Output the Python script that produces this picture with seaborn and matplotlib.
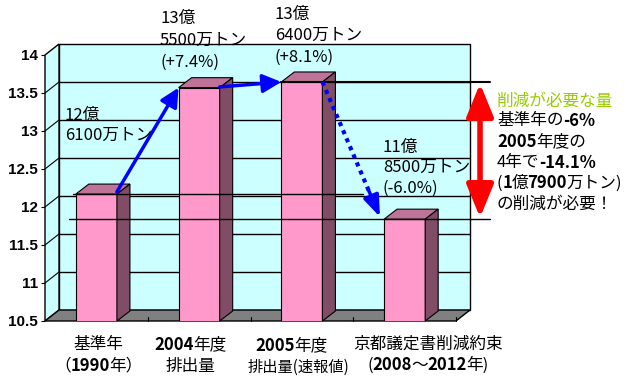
import numpy as np
import pandas as pd
import seaborn as sns
import matplotlib
matplotlib.use("Agg")
import matplotlib.pyplot as plt
from matplotlib.patches import Polygon

# ---------------- data ----------------
categories = ["基準年", "2004年度", "2005年度", "京都議定書"]
values = [12.17, 13.57, 13.645, 11.84]          # bar heights as drawn
yticks = [10.5, 11, 11.5, 12, 12.5, 13, 13.5, 14]
ytick_labels = ["10.5", "11", "11.5", "12", "12.5", "13", "13.5", "14"]

value_labels = [
    ["12億", "6100万トン"],
    ["13億", "5500万トン", "(+7.4%)"],
    ["13億", "6400万トン", "(+8.1%)"],
    ["11億", "8500万トン", "(-6.0%)"],
]
# category labels: list of lines, each line a list of (text, bold)
cat_labels = [
    [[("基準年", False)], [("（", False), ("1990", True), ("年）", False)]],
    [[("2004", True), ("年度", False)], [("排出量", False)]],
    [[("2005", True), ("年度", False)], [("排出量(速報値)", False)]],
    [[("京都議定書削減約束", False)], [("(", False), ("2008", True), ("〜", False), ("2012", True), ("年)", False)]],
]
note_lines = [
    [("削減が必要な量", False, "#99CC00")],
    [("基準年の", False, "black"), ("-6%", True, "black")],
    [("2005", True, "black"), ("年度の", False, "black")],
    [("4年で", False, "black"), ("-14.1%", True, "black")],
    [("(", False, "black"), ("1", True, "black"), ("億", False, "black"),
     ("7900", True, "black"), ("万トン)", False, "black")],
    [("の削減が必要！", False, "black")],
]

# ---------------- style ----------------
sns.set_theme(style="white")
plt.rcParams["font.family"] = ["Noto Sans CJK JP", "DejaVu Sans"]

W, H = 630, 379
fig = plt.figure(figsize=(W / 100, H / 100), dpi=100)
fig.patch.set_facecolor("white")
ax = fig.add_axes([45 / W, 1 - 321 / H, 411 / W, 266 / H])

df = pd.DataFrame({"cat": categories, "val": values})
sns.barplot(data=df, x="cat", y="val", order=categories, color="#FF99CC",
            saturation=1, width=0.4, edgecolor="black", linewidth=0.8,
            errorbar=None, ax=ax, zorder=3)
bars = list(ax.patches)

x0, x1 = -0.5, 3.5
y0, y1 = 10.5, 14.0
ax.set_xlim(x0, x1)
ax.set_ylim(y0, y1)
ax.patch.set_visible(False)
for s in ax.spines.values():
    s.set_visible(False)

# depth offsets (data units)
dx = 14 * 4 / 411
dy = 11 * 3.5 / 266
dxb = 13 * 4 / 411
dyb = 10 * 3.5 / 266

# walls and floor
ax.add_patch(Polygon([(x0 + dx, y0 + dy), (x1 + dx, y0 + dy), (x1 + dx, y1 + dy), (x0 + dx, y1 + dy)],
                     closed=True, fc="#CCFFFF", ec="black", lw=1, zorder=0.5, clip_on=False))
ax.add_patch(Polygon([(x0, y0), (x0 + dx, y0 + dy), (x0 + dx, y1 + dy), (x0, y1)],
                     closed=True, fc="#CCFFFF", ec="black", lw=1, zorder=0.6, clip_on=False))
ax.add_patch(Polygon([(x0, y0), (x1, y0), (x1 + dx, y0 + dy), (x0 + dx, y0 + dy)],
                     closed=True, fc="#808080", ec="black", lw=1, zorder=0.7, clip_on=False))
for v in yticks[1:-1]:
    ax.plot([x0 + dx, x1 + dx], [v + dy, v + dy], color="black", lw=1, zorder=0.8, clip_on=False)
    ax.plot([x0, x0 + dx], [v, v + dy], color="black", lw=0.8, zorder=0.8, clip_on=False)
for k in [0.5, 1.5, 2.5, 3.5]:
    ax.plot([k, k], [y0, y0 + 4 * 3.5 / 266], color="black", lw=0.8, zorder=0.9, clip_on=False)

# 3D faces of bars
for p in bars:
    bx, bw = p.get_x(), p.get_width()
    top = p.get_y() + p.get_height()
    ax.add_patch(Polygon([(bx, top), (bx + bw, top), (bx + bw + dxb, top + dyb), (bx + dxb, top + dyb)],
                         closed=True, fc="#BF7399", ec="black", lw=0.8, zorder=3.1, clip_on=False))
    ax.add_patch(Polygon([(bx + bw, y0), (bx + bw, top), (bx + bw + dxb, top + dyb), (bx + bw + dxb, y0 + dyb)],
                         closed=True, fc="#804C66", ec="black", lw=0.8, zorder=3.1, clip_on=False))

# axis ticks
ax.set_xticks([])
ax.set_xlabel("")
ax.set_ylabel("")
ax.set_yticks(yticks)
ax.set_yticklabels(ytick_labels, fontweight="bold", fontfamily="Liberation Sans", fontsize=11)
ax.tick_params(axis="y", left=True, length=3, width=0.8, pad=2, color="black", labelcolor="black")

# reference lines
ext = 3.83
ax.plot([bars[2].get_x(), ext], [values[2], values[2]], color="black", lw=1.5, zorder=4, clip_on=False)
ax.plot([-0.266, ext], [values[3], values[3]], color="black", lw=1, zorder=4, clip_on=False)
ax.plot([-0.227, 2.595], [values[0], values[0]], color="black", lw=1, zorder=4, clip_on=False)

# blue arrows
def right(i):
    return bars[i].get_x() + bars[i].get_width()

def left(i):
    return bars[i].get_x()

aprops = dict(arrowstyle="-|>,head_length=0.7,head_width=0.35", color="#0000FF", lw=2.5,
              mutation_scale=16, shrinkA=0, shrinkB=0)
ax.annotate("", xy=(left(1), values[1]), xytext=(right(0), values[0] + 0.03),
            arrowprops=aprops, zorder=5, annotation_clip=False)
ax.annotate("", xy=(left(2), values[2]), xytext=(right(1), values[1] + 0.01),
            arrowprops=aprops, zorder=5, annotation_clip=False)
# dotted arrow
sx, sy = right(2), values[2]
ex, ey = left(3) - 0.04, values[3] + 0.03
t = 0.86
ax.plot([sx, sx + (ex - sx) * t], [sy, sy + (ey - sy) * t], color="#0000FF", lw=3.0,
        linestyle=(0, (1, 1.1)), zorder=5, clip_on=False)
ax.annotate("", xy=(ex, ey), xytext=(sx + (ex - sx) * 0.8, sy + (ey - sy) * 0.8),
            arrowprops=dict(arrowstyle="-|>,head_length=0.8,head_width=0.3", color="#0000FF", lw=2.5,
                            mutation_scale=16, shrinkA=0, shrinkB=0),
            zorder=5, annotation_clip=False)

# red double arrow
rx = 3.734
ax.annotate("", xy=(rx, values[3] + 0.02), xytext=(rx, values[2] - 0.02),
            arrowprops=dict(arrowstyle="<|-|>,head_length=1.1,head_width=0.45", color="#FF0000",
                            lw=4, mutation_scale=18, shrinkA=0, shrinkB=0),
            zorder=5, annotation_clip=False)

# ---------------- texts ----------------
renderer = fig.canvas.get_renderer()

def rich(xp, yp, parts, size=12, ha="left", fudge=0.5):
    texts = []
    for part in parts:
        s, bold = part[0], part[1]
        color = part[2] if len(part) > 2 else "black"
        tx = fig.text(0, 1 - yp / H, s, fontsize=size, fontweight="bold" if bold else "normal",
                      color=color, va="center", ha="left")
        texts.append(tx)
    widths = [tx.get_window_extent(renderer).width - fudge for tx in texts]
    total = sum(widths)
    x = xp - total / 2 if ha == "center" else xp
    for tx, w in zip(texts, widths):
        tx.set_x(x / W)
        x += w

# value labels
val_pos = [(65, [115, 135]), (160, [18, 40, 62]), (275, [14, 35, 57]), (383, [147, 167, 188])]
for lines, (xp, ys) in zip(value_labels, val_pos):
    for s, yp in zip(lines, ys):
        fig.text(xp / W, 1 - yp / H, s, fontsize=12, va="center", ha="left", color="black")

# category labels
cat_pos = [(98, [345, 366]), (190, [345, 366]), (291, [346, 367]), (428, [344, 365])]
for ci, (lines, (xp, ys)) in enumerate(zip(cat_labels, cat_pos)):
    for li, (parts, yp) in enumerate(zip(lines, ys)):
        size = 11 if (ci == 2 and li == 1) else 12
        cx = 298 if (ci == 2 and li == 1) else xp
        rich(cx, yp, parts, size=size, ha="center")

# note block
note_y = [101, 121, 142, 163, 183, 204]
for parts, yp in zip(note_lines, note_y):
    rich(497, yp, parts, size=12)

fig.savefig("out.png", dpi=100, facecolor="white")
